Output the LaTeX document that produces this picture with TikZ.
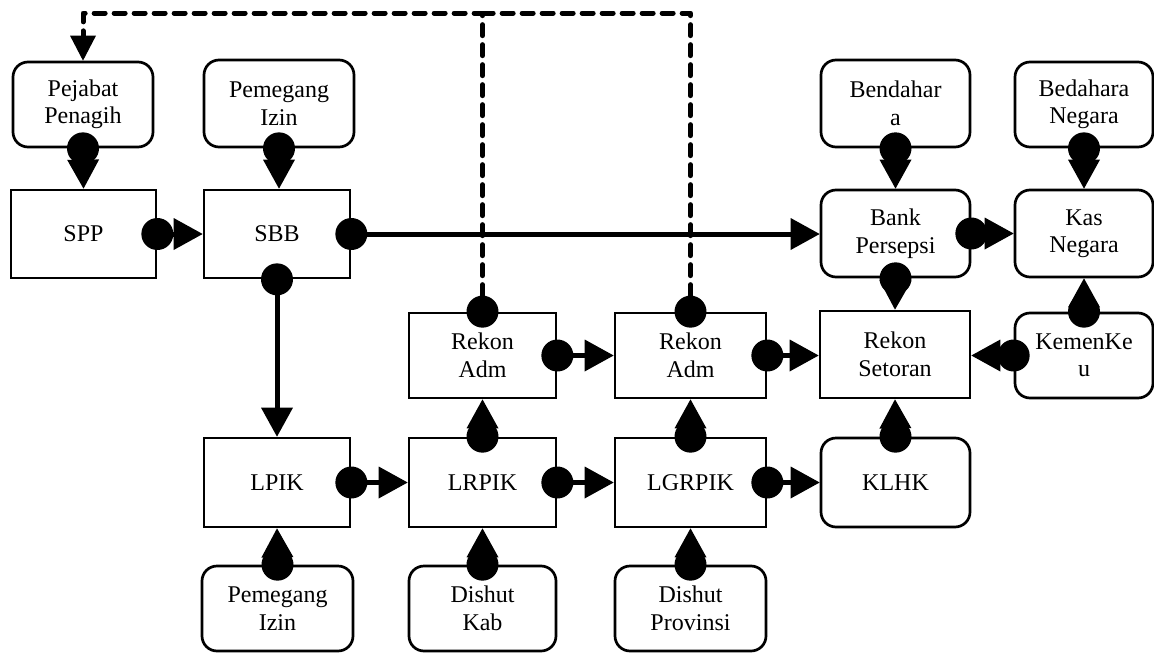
\documentclass[tikz,border=0pt]{standalone}
\usepackage{fontspec}
\setmainfont{Liberation Serif}
\usetikzlibrary{arrows.meta}
\begin{document}
\begin{tikzpicture}[x=1pt,y=-1pt,
  box/.style={draw, line width=2.7pt, inner sep=0pt, align=center,
    font=\fontsize{24}{27.5}\selectfont},
  sq/.style={box},
  rnd/.style={box, rounded corners=15pt},
  flow/.style={line width=5pt,
    {Circle[length=32pt,line width=0pt]}-{Triangle[length=29pt,width=32pt,line width=0pt]},
    shorten <=-16pt},
  dflow/.style={line width=5pt, dash pattern=on 11pt off 9pt, line cap=round, line join=round,
    shorten <=-16pt}
]
\useasboundingbox (0,0) rectangle (1154,653);
% top row
\node[rnd, minimum width=140pt, minimum height=85pt] (pp) at (83,104.5) {Pejabat\\Penagih};
\node[rnd, minimum width=150pt, minimum height=87pt] (pi1) at (279,103.5) {Pemegang\\Izin};
\node[rnd, minimum width=149pt, minimum height=87pt] (bh) at (895.5,103.5) {Bendahar\\a};
\node[rnd, minimum width=138pt, minimum height=85pt] (bn) at (1084,104.5) {Bedahara\\Negara};
% second row
\node[sq, minimum width=145pt, minimum height=88pt] (spp) at (83.5,234) {SPP};
\node[sq, minimum width=146pt, minimum height=88pt] (sbb) at (277,234) {SBB};
\node[rnd, minimum width=149pt, minimum height=87pt] (bp) at (895.5,233.5) {Bank\\Persepsi};
\node[rnd, minimum width=138pt, minimum height=87pt] (kn) at (1084,233.5) {Kas\\Negara};
% third row
\node[sq, minimum width=147pt, minimum height=85pt] (ra1) at (482.5,355.5) {Rekon\\Adm};
\node[sq, minimum width=151pt, minimum height=85pt] (ra2) at (690.5,355.5) {Rekon\\Adm};
\node[sq, minimum width=150pt, minimum height=87pt] (rs) at (895,354.5) {Rekon\\Setoran};
\node[rnd, minimum width=138pt, minimum height=85pt] (kk) at (1084,355.5) {KemenKe\\u};
% fourth row
\node[sq, minimum width=146pt, minimum height=89pt] (lpik) at (277,482.5) {LPIK};
\node[sq, minimum width=147pt, minimum height=89pt] (lrpik) at (482.5,482.5) {LRPIK};
\node[sq, minimum width=151pt, minimum height=89pt] (lgrpik) at (690.5,482.5) {LGRPIK};
\node[rnd, minimum width=149pt, minimum height=89pt] (klhk) at (895.5,482.5) {KLHK};
% bottom row
\node[rnd, minimum width=151pt, minimum height=85pt] (pi2) at (277.5,608.5) {Pemegang\\Izin};
\node[rnd, minimum width=147pt, minimum height=85pt] (dk) at (482.5,608.5) {Dishut\\Kab};
\node[rnd, minimum width=151pt, minimum height=85pt] (dp) at (690.5,608.5) {Dishut\\Provinsi};
% connectors
\draw[flow] (pp.south) -- (spp.north);
\draw[flow] (pi1.south) -- (pi1.south |- sbb.north);
\draw[flow] (spp.east) -- (spp.east -| sbb.west);
\draw[flow] (sbb.east) -- (sbb.east -| bp.west);
\draw[flow] (sbb.south) -- (lpik.north);
\draw[flow] (bh.south) -- (bp.north);
\draw[flow] (bn.south) -- (kn.north);
\draw[flow] (bp.east) -- (bp.east -| kn.west);
\draw[flow] (bp.south) -- (rs.north);
\draw[flow] (kk.north) -- (kn.south);
\draw[flow] (kk.west) -- (kk.west -| rs.east);
\draw[flow] (ra1.east) -- (ra1.east -| ra2.west);
\draw[flow] (ra2.east) -- (ra2.east -| rs.west);
\draw[flow] (lrpik.north) -- (ra1.south);
\draw[flow] (lgrpik.north) -- (ra2.south);
\draw[flow] (klhk.north) -- (rs.south);
\draw[flow] (lpik.east) -- (lpik.east -| lrpik.west);
\draw[flow] (lrpik.east) -- (lrpik.east -| lgrpik.west);
\draw[flow] (lgrpik.east) -- (lgrpik.east -| klhk.west);
\draw[flow] (pi2.north) -- (lpik.south);
\draw[flow] (dk.north) -- (lrpik.south);
\draw[flow] (dp.north) -- (lgrpik.south);
% dashed feedback
\coordinate (tl) at (83,13);
\draw[dflow, {Circle[length=32pt,line width=0pt]}-{Triangle[length=25pt,width=26pt,line width=0pt]}]
  (ra1.north) -- (ra1.north |- tl) -- (tl) -- (pp.north);
\draw[dflow, {Circle[length=32pt,line width=0pt]}-]
  (ra2.north) -- (ra2.north |- tl) -- (ra1.north |- tl);
\end{tikzpicture}
\end{document}
